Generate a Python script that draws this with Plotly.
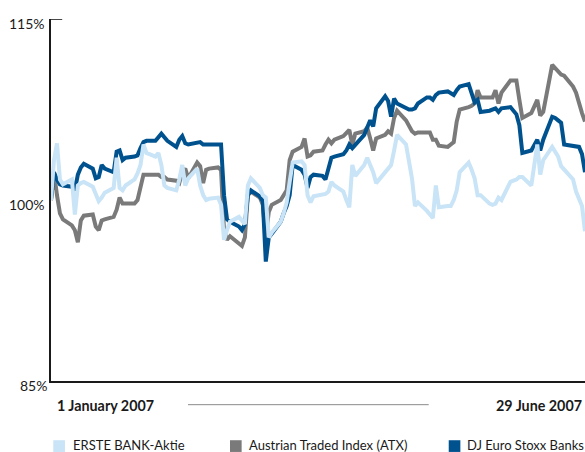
import pandas as pd
import plotly.graph_objects as go

dates = pd.bdate_range("2007-01-01", "2007-06-29")

erste = [
    100.0, 103.3, 104.7, 101.7, 101.3, 101.7, 98.8, 101.2, 101.4, 101.5,
    101.1, 100.4, 99.9, 100.2, 100.6, 101.0, 103.5, 101.0, 100.8, 101.2,
    101.7, 102.2, 102.9, 104.6, 103.9, 103.6, 103.9, 102.9, 101.2, 101.0,
    100.8, 101.7, 102.9, 101.2, 101.8, 102.6, 101.2, 100.4, 100.0, 100.1,
    100.2, 99.6, 96.7, 97.5, 98.2, 98.6, 98.3, 98.0, 101.2, 101.8,
    101.0, 100.4, 100.2, 96.9, 97.3, 98.2, 98.9, 99.8, 101.5, 103.1,
    103.2, 102.9, 100.4, 99.8, 100.3, 100.4, 100.5, 100.7, 101.5, 101.2,
    100.7, 100.0, 99.4, 102.9, 102.0, 102.9, 103.5, 102.9, 102.3, 101.4,
    102.3, 102.6, 102.9, 104.1, 105.4, 104.6, 103.1, 101.8, 99.5, 99.8,
    99.1, 98.8, 98.5, 101.2, 99.4, 99.5, 99.5, 100.0, 100.8, 102.3,
    103.1, 102.5, 101.8, 100.4, 100.4, 99.7, 99.6, 99.7, 100.2, 100.0,
    101.5, 101.6, 101.7, 101.9, 101.9, 101.2, 102.9, 104.6, 102.1, 103.3,
    104.4, 104.0, 103.6, 102.8, 102.5, 101.7, 100.7, 100.0, 99.5, 97.4,
]

atx = [
    100.0, 102.3, 100.4, 98.9, 98.4, 97.9, 97.5, 96.5, 98.3, 98.7,
    98.8, 97.8, 97.5, 98.3, 98.4, 98.6, 99.2, 100.2, 99.7, 99.7,
    99.7, 100.0, 101.2, 102.1, 102.1, 102.1, 102.1, 101.9, 101.9, 101.7,
    101.6, 101.4, 102.3, 102.6, 101.8, 103.1, 102.8, 101.4, 102.5, 102.6,
    102.7, 102.5, 97.5, 96.7, 97.0, 96.4, 96.2, 96.9, 100.4, 100.7,
    100.2, 99.6, 96.9, 99.0, 99.6, 100.0, 100.4, 100.8, 103.3, 104.0,
    104.4, 105.1, 103.6, 103.7, 104.0, 104.1, 104.6, 105.0, 104.7, 105.0,
    105.3, 105.5, 105.8, 104.6, 105.5, 105.7, 106.0, 105.1, 104.1, 105.1,
    105.4, 105.7, 105.5, 106.8, 107.4, 106.6, 106.1, 105.7, 105.5, 105.6,
    105.6, 105.6, 105.0, 105.0, 104.5, 104.4, 104.6, 104.8, 106.5, 107.5,
    107.7, 107.8, 108.0, 109.1, 108.5, 108.5, 108.5, 109.1, 108.0, 108.9,
    109.9, 109.9, 109.9, 108.3, 106.8, 107.2, 107.7, 108.3, 107.0, 107.3,
    111.2, 110.9, 110.7, 110.4, 110.3, 109.4, 108.9, 107.9, 107.2, 106.5,
]

stoxx = [
    100.0, 102.3, 101.7, 101.3, 101.2, 101.1, 100.8, 102.1, 102.7, 103.0,
    102.6, 101.8, 101.9, 102.9, 102.6, 102.3, 104.0, 104.1, 103.3, 103.5,
    103.6, 103.7, 104.3, 104.8, 104.9, 104.9, 105.2, 105.5, 105.2, 104.9,
    104.4, 105.0, 105.3, 104.7, 104.6, 104.7, 104.8, 104.6, 104.6, 104.6,
    104.6, 104.6, 100.4, 98.4, 98.2, 97.8, 97.5, 98.0, 100.4, 100.8,
    100.3, 99.9, 94.9, 96.9, 97.2, 98.2, 98.9, 99.5, 100.4, 102.9,
    102.5, 102.1, 101.0, 101.9, 102.1, 102.0, 101.7, 102.6, 103.5, 103.6,
    103.8, 104.1, 104.6, 104.3, 104.6, 105.4, 106.0, 106.6, 106.1, 107.6,
    108.6, 108.2, 106.9, 108.4, 108.0, 107.6, 107.5, 107.5, 107.6, 108.0,
    108.5, 108.5, 108.3, 108.7, 108.9, 109.0, 108.8, 108.7, 109.1, 109.4,
    109.6, 108.7, 108.1, 108.3, 107.3, 107.4, 107.5, 107.6, 107.3, 107.6,
    107.7, 107.4, 107.1, 106.2, 103.9, 104.1, 104.6, 105.0, 104.1, 105.0,
    106.9, 106.8, 106.6, 106.4, 104.6, 104.5, 104.5, 104.4, 103.8, 102.3,
]

series_names = ["ERSTE BANK-Aktie", "Austrian Traded Index (ATX)", "DJ Euro Stoxx Banks"]
series_colors = ["#c8e4f6", "#7a7a7a", "#00528f"]
y_ticks = [85, 100, 115]
y_tick_text = ["85%", "100%", "115%"]
x_labels = ["1 January 2007", "29 June 2007"]

FONT = "Lato"
INK = "#1a1a1a"

fig = go.Figure()
# draw order: ATX (bottom), Stoxx, ERSTE (top)
for vals, idx in [(atx, 1), (stoxx, 2), (erste, 0)]:
    fig.add_trace(go.Scatter(
        x=dates, y=vals, mode="lines", name=series_names[idx],
        line=dict(color=series_colors[idx], width=4),
        hoverinfo="skip", showlegend=False,
    ))

fig.update_layout(
    width=585, height=452,
    margin=dict(l=51, r=0, t=18.5, b=71),
    paper_bgcolor="white", plot_bgcolor="white",
    font=dict(family=FONT, color=INK, size=13),
    xaxis=dict(range=[dates[0], dates[-1]], showgrid=False, zeroline=False,
               showticklabels=False, ticks="", showline=True,
               linecolor=INK, linewidth=1.6),
    yaxis=dict(range=[85, 115], showgrid=False, zeroline=False,
               showticklabels=False, ticks="", showline=True,
               linecolor=INK, linewidth=1.6),
)

# y tick labels
for v, t in zip(y_ticks, y_tick_text):
    fig.add_annotation(x=0, xref="paper", y=v, yref="y", text=t,
                       showarrow=False, xanchor="right", yanchor="middle",
                       xshift=-2 if v == 85 else -4, yshift=-4.5,
                       font=dict(family=FONT, size=14, color=INK))

# small tick at the top
fig.add_shape(type="line", xref="paper", yref="y", x0=0, x1=0.021, y0=115, y1=115,
              line=dict(color=INK, width=1.6))

# x labels
fig.add_annotation(x=0.0075, xref="paper", y=-0.067, yref="paper", text="<b>" + x_labels[0] + "</b>",
                   showarrow=False, xanchor="left", yanchor="middle",
                   font=dict(family=FONT, size=14.3, color=INK))
fig.add_annotation(x=0.998, xref="paper", y=-0.067, yref="paper", text="<b>" + x_labels[1] + "</b>",
                   showarrow=False, xanchor="right", yanchor="middle",
                   font=dict(family=FONT, size=14.3, color=INK))
fig.add_shape(type="line", xref="paper", yref="paper", x0=0.2566, x1=0.7073,
              y0=-0.0654, y1=-0.0654, line=dict(color="#8a8a8a", width=1))

# legend
legend_sq = [0.0043, 0.3352, 0.7448]
legend_tx = [0.0369, 0.3665, 0.7758]
for i in range(3):
    fig.add_shape(type="rect", xref="paper", yref="paper",
                  x0=legend_sq[i], x1=legend_sq[i] + 0.0218, y0=-0.196, y1=-0.1636,
                  line=dict(width=0), fillcolor=series_colors[i])
    fig.add_annotation(x=legend_tx[i], xref="paper", y=-0.176, yref="paper",
                       text=series_names[i], showarrow=False,
                       xanchor="left", yanchor="middle",
                       font=dict(family=FONT, size=13, color=INK))

fig.write_html("out.html", config={"displayModeBar": False})

with open("out.html", "r", encoding="utf-8") as f:
    html = f.read()
html = html.replace("<head>", "<head><style>html,body{margin:0;padding:0;overflow:hidden;}</style>", 1)
with open("out.html", "w", encoding="utf-8") as f:
    f.write(html)
